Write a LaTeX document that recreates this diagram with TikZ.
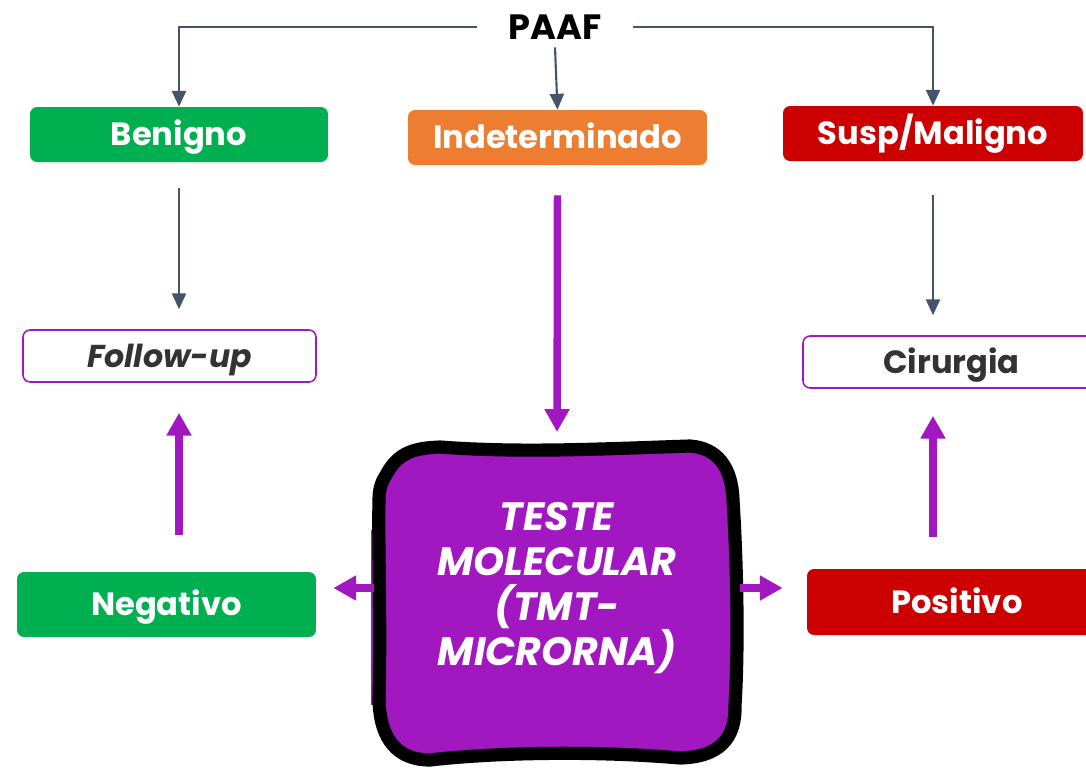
\documentclass[tikz,border=0pt]{standalone}
\usepackage{fontspec}
\setmainfont{Poppins}
\usetikzlibrary{arrows.meta}
\definecolor{verde}{HTML}{00B050}
\definecolor{laranja}{HTML}{ED7D31}
\definecolor{vermelho}{HTML}{CC0000}
\definecolor{roxo}{HTML}{A117C0}
\definecolor{cinza}{HTML}{44546A}
\definecolor{escuro}{HTML}{333333}
\tikzset{
  caixa/.style={rounded corners=4pt, minimum height=1.1cm, inner sep=0pt, text=white,
    text height=12.8pt, text depth=0pt, font=\fontsize{18.3}{20}\selectfont\bfseries},
  vazia/.style={caixa, draw=roxo, line width=0.9pt, fill=white, text=escuro, minimum height=1.04cm},
  fina/.style={cinza, line width=1.2pt, -{Triangle[length=9pt,width=8pt]}},
  grossa/.style={roxo, line width=4.2pt, -{Triangle[length=13pt,width=13.5pt]}},
}
\begin{document}
\begin{tikzpicture}[x=0.02cm,y=-0.02cm]
\useasboundingbox (0,0) rectangle (1086,772);
\node[font=\fontsize{20}{22}\selectfont\bfseries, minimum width=3.1cm, minimum height=0.8cm] (paaf) at (555,27) {PAAF};
\node[caixa, fill=verde, minimum width=5.96cm] (benigno) at (179,134.5) {Benigno};
\node[caixa, fill=laranja, minimum width=5.98cm] (indet) at (557.5,137.5) {Indeterminado};
\node[caixa, fill=vermelho, minimum width=6cm] (maligno) at (933,133.5) {Susp/Maligno};
\node[vazia, minimum width=5.86cm, font=\fontsize{18}{20}\selectfont\bfseries\itshape] (follow) at (169.5,356) {Follow-up};
\node[vazia, minimum width=5.94cm] (cirurgia) at (951.5,362) {Cirurgia};
\node[caixa, fill=verde, minimum width=5.98cm, minimum height=1.3cm] (negativo) at (166.5,604.5) {Negativo};
\node[caixa, fill=vermelho, minimum width=6cm, minimum height=1.32cm] (positivo) at (957,602) {Positivo};
\fill[roxo] (371,530) rectangle (384,705);
\filldraw[fill=roxo, draw=black, line width=7.5pt, line join=round]
  (386,475) .. controls (398,452) and (415,448) .. (440,447)
  .. controls (520,453) and (600,449) .. (690,446)
  .. controls (718,448) and (732,468) .. (733,500)
  .. controls (738,580) and (738,660) .. (735,705)
  .. controls (736,740) and (718,757) .. (680,758)
  .. controls (600,751) and (500,752) .. (430,760)
  .. controls (398,760) and (380,740) .. (379,700)
  .. controls (381,620) and (378,540) .. (379,500)
  .. controls (379,488) and (382,481) .. (386,475) -- cycle;
\node[minimum width=7.3cm, inner sep=0pt, align=center, text=white,
  font=\fontsize{22.5}{25.5}\selectfont\bfseries\itshape] (teste) at (557,588)
  {TESTE\\MOLECULAR\\(TMT-\\MICRORNA)};
\draw[fina] (paaf.west) -| (benigno.north);
\draw[fina] (paaf.east) -| (maligno.north);
\draw[fina] (paaf.south) -- (indet.north);
\draw[fina, shorten <=0.52cm, shorten >=0.4cm] (benigno.south) -- (benigno.south |- follow.north);
\draw[fina, shorten <=0.68cm, shorten >=0.4cm] (maligno.south) -- (maligno.south |- cirurgia.north);
\draw[grossa, shorten <=0.6cm, shorten >=0.16cm] (indet.south) -- (teste.north |- 0,440);
\draw[grossa, shorten <=0.74cm, shorten >=0.6cm] (benigno.south |- negativo.north) -- (benigno.south |- follow.south);
\draw[grossa, shorten <=0.64cm, shorten >=0.54cm] (maligno.south |- positivo.north) -- (maligno.south |- cirurgia.south);
\draw[grossa, shorten >=0.34cm] (teste.west) -- (teste.west -| negativo.east);
\draw[grossa, shorten >=0.48cm] (teste.east) -- (teste.east -| positivo.west);
\end{tikzpicture}
\end{document}
